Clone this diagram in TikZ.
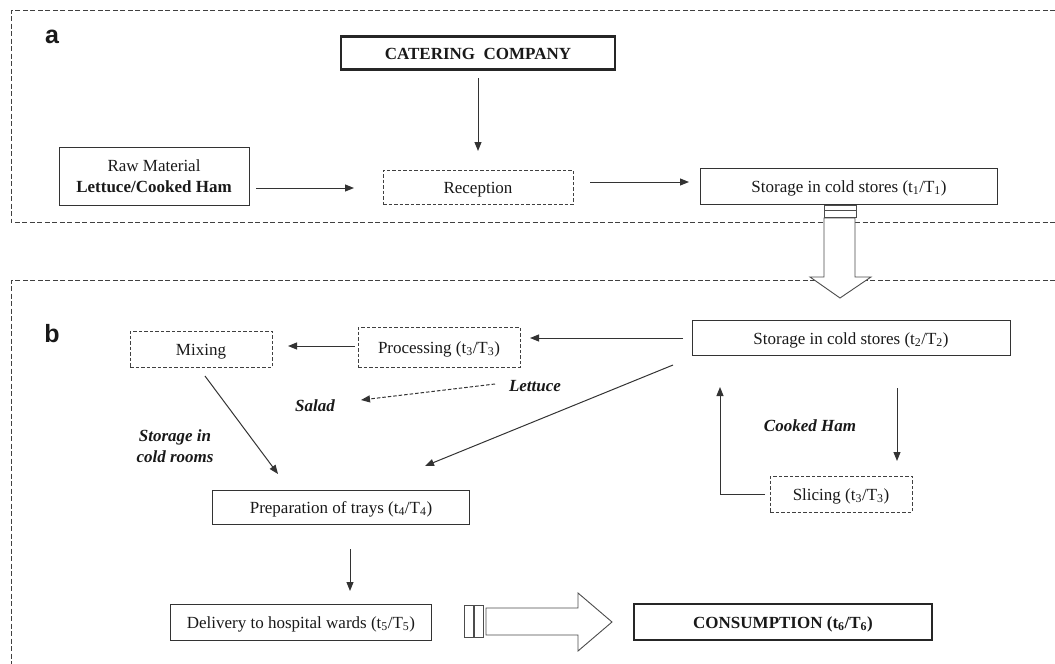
\documentclass[tikz,border=0pt]{standalone}
\usepackage{fontspec}
\setmainfont{Liberation Serif}
\setsansfont{Liberation Sans}
\usetikzlibrary{arrows.meta,positioning}
\begin{document}
\begin{tikzpicture}[x=1pt,y=-1pt,
  every node/.style={font=\fontsize{17}{21}\selectfont, text=black!90},
  oneline/.style={text height=13pt, text depth=1pt},
  rawbox/.style={draw=black!80, line width=1pt, inner sep=0pt, align=center},
  plain/.style={draw=black!80, line width=1pt, minimum height=34pt, inner sep=0pt, oneline},
  dbox/.style={draw=black!75, dashed, dash pattern=on 3.5pt off 2pt, line width=0.9pt, minimum height=34pt, inner sep=0pt, oneline},
  thick box/.style={draw=black!85, line width=2.2pt, minimum height=33pt, inner sep=0pt, oneline, font=\fontsize{17}{21}\selectfont\bfseries},
  conn/.style={draw=black!80, line width=1pt, -{Triangle[length=9pt,width=7pt]}},
  dconn/.style={conn, dashed, dash pattern=on 3.5pt off 2pt},
  frame/.style={draw=black!75, dash pattern=on 5pt off 2.5pt, line width=0.9pt},
  lbl/.style={font=\fontsize{17}{21}\selectfont\bfseries\itshape, align=center},
  panel/.style={font=\fontsize{25}{27}\selectfont\sffamily\bfseries},
  block/.style={draw=black!70, line width=0.9pt, fill=white}]
\useasboundingbox (0,0) rectangle (1055,664);

% panel frames
\draw[frame] (1055,10) -- (11,10) -- (11,222) -- (1055,222);
\draw[frame] (1055,280) -- (11,280) -- (11,664);
\node[panel] (pa) at (52,37) {a};
\node[panel] (pb) at (52,334) {b};

% ---- panel a ----
\node[thick box, minimum width=274pt] (cat) at (478,53) {CATERING\ \ COMPANY};
\node[rawbox, minimum width=190pt, minimum height=58pt] (raw) at (154,176) {Raw Material\\\textbf{Lettuce/Cooked Ham}};
\node[dbox, minimum width=190pt] (rec) at (478,187) {Reception};
\node[plain, minimum width=297pt, minimum height=36pt] (st1) at (849,186) {Storage in cold stores (t\textsubscript{1}/T\textsubscript{1})};

\coordinate (c1) at (478,78);
\coordinate (c2) at (478,151);
\draw[conn] (c1) -- (c2);
\coordinate (r1) at (256,188);
\coordinate (r2) at (354,188);
\draw[conn] (r1) -- (r2);
\coordinate (e1) at (590,182);
\coordinate (e2) at (689,182);
\draw[conn] (e1) -- (e2);

% block arrow between panels
\draw[block] (824,205) rectangle (856,210);
\draw[block] (824,210) rectangle (856,217);
\draw[block] (824,218) -- (824,277) -- (810,277) -- (840,298) -- (871,277) -- (855,277) -- (855,218) -- cycle;

% ---- panel b ----
\node[plain, minimum width=318pt, minimum height=35pt] (st2) at (851,338) {Storage in cold stores (t\textsubscript{2}/T\textsubscript{2})};
\node[dbox, minimum width=162pt, minimum height=40pt] (proc) at (439,347) {Processing (t\textsubscript{3}/T\textsubscript{3})};
\node[dbox, minimum width=142pt, minimum height=36pt] (mix) at (201,349) {Mixing};
\node[plain, minimum width=257pt, minimum height=34pt] (prep) at (341,507) {Preparation of trays (t\textsubscript{4}/T\textsubscript{4})};
\node[plain, minimum width=261pt, minimum height=36pt] (del) at (301,622) {Delivery to hospital wards (t\textsubscript{5}/T\textsubscript{5})};
\node[thick box, minimum width=298pt, minimum height=36pt] (cons) at (783,622) {CONSUMPTION (t\textsubscript{6}/T\textsubscript{6})};
\node[dbox, minimum width=142pt, minimum height=36pt] (slc) at (841,494) {Slicing (t\textsubscript{3}/T\textsubscript{3})};

\node[lbl] (let) at (535,386) {Lettuce};
\node[lbl] (sal) at (315,406) {Salad};
\node[lbl] (scr) at (175,446) {Storage in\\cold rooms};
\node[lbl] (ham) at (810,426) {Cooked Ham};

\coordinate (s1) at (683,338);
\coordinate (s2) at (530,338);
\draw[conn] (s1) -- (s2);
\coordinate (p1) at (355,346);
\coordinate (p2) at (288,346);
\draw[conn] (p1) -- (p2);
\coordinate (d1) at (495,384);
\coordinate (d2) at (361,400);
\draw[dconn] (d1) -- (d2);
\coordinate (l1) at (673,365);
\coordinate (l2) at (425,466);
\draw[conn] (l1) -- (l2);
\coordinate (m1) at (205,376);
\coordinate (m2) at (278,474);
\draw[conn] (m1) -- (m2);
\coordinate (h1) at (897,388);
\coordinate (h2) at (897,461);
\draw[conn] (h1) -- (h2);
\coordinate (k1) at (765,494);
\coordinate (k2) at (720,387);
\draw[conn] (k1) -- (720,494) -- (k2);
\coordinate (t1) at (350,549);
\coordinate (t2) at (350,591);
\draw[conn] (t1) -- (t2);

% block arrow to consumption
\draw[block] (464,605) rectangle (473,637);
\draw[block] (474,605) rectangle (483,637);
\draw[block] (486,608) -- (578,608) -- (578,593) -- (612,622) -- (578,651) -- (578,635) -- (486,635) -- cycle;
\end{tikzpicture}
\end{document}
